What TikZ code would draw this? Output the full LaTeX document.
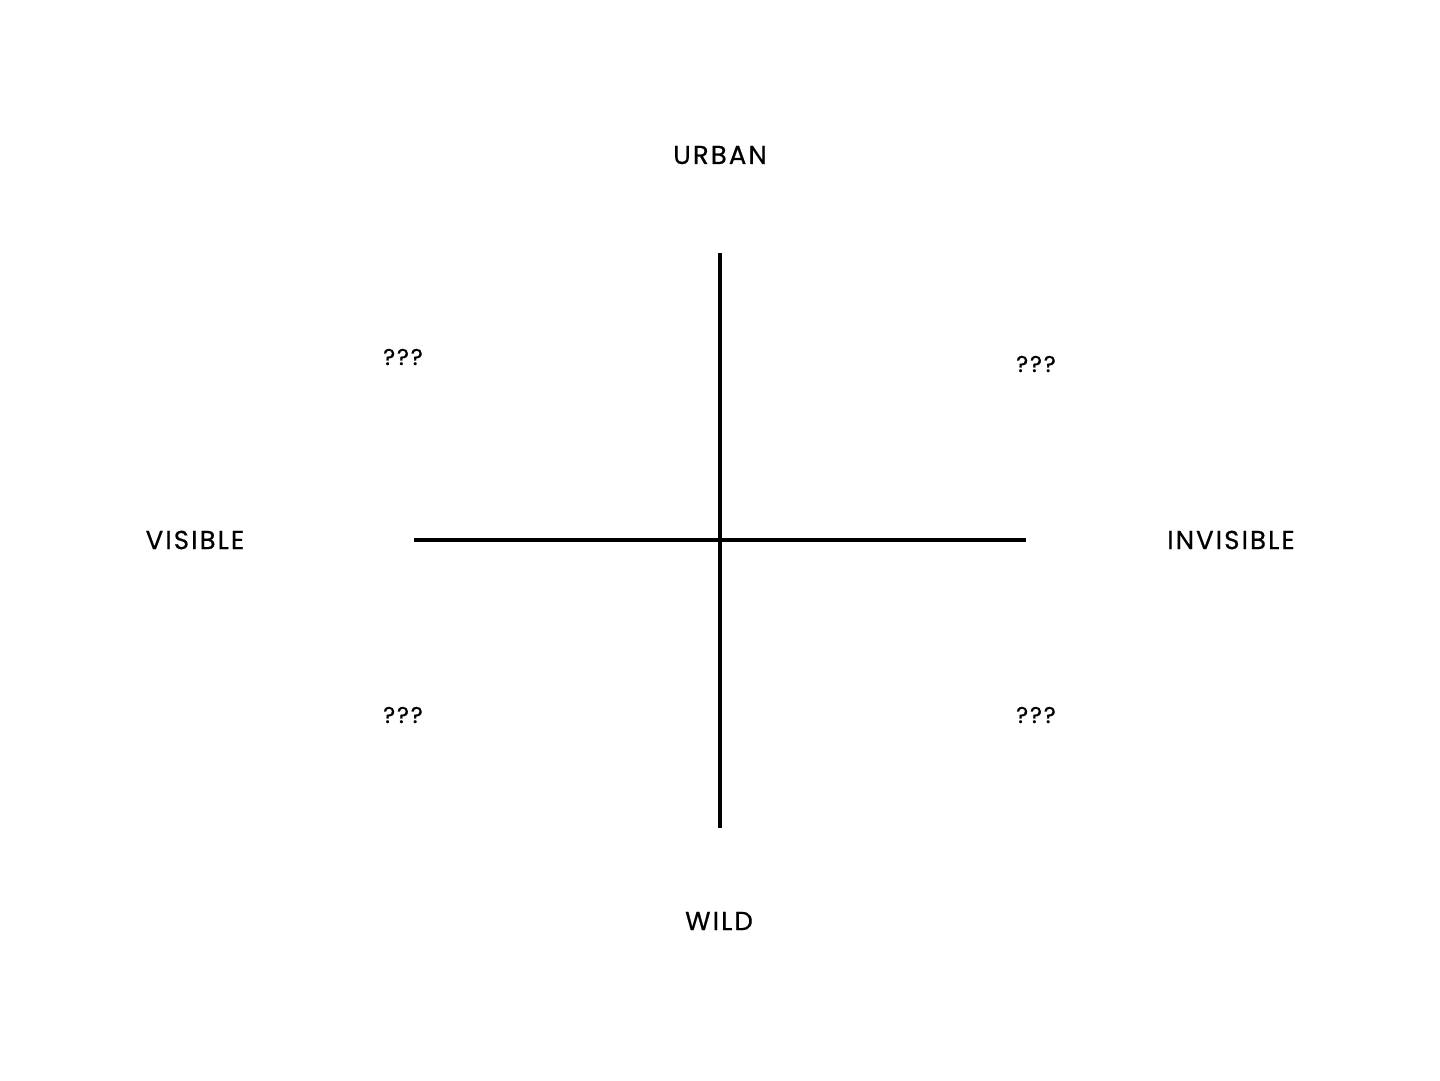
\documentclass[tikz,border=0pt]{standalone}
\usepackage{fontspec}
\setmainfont{Poppins}[LetterSpace=8,FakeBold=0.6]
\usetikzlibrary{positioning}

\begin{document}
\begin{tikzpicture}[
  x=0.02cm,y=-0.02cm,
  axislabel/.style={font=\fontsize{14.8}{16}\selectfont,inner sep=0pt},
  quad/.style={font=\fontsize{13}{15}\selectfont,inner sep=0pt},
  axis/.style={line width=1.8pt,black}]
\useasboundingbox (0,0) rectangle (1440,1080);
% axes
\coordinate (top) at (720,253);
\coordinate (bottom) at (720,828);
\coordinate (left) at (414,540);
\coordinate (right) at (1026,540);
\draw[axis] (top) -- (bottom);
\draw[axis] (left) -- (right);
% labels
\node[axislabel] (urban) at (720,155) {URBAN};
\node[axislabel] (wild) at (719,921) {WILD};
\node[axislabel] (visible) at (195,540) {VISIBLE};
\node[axislabel] (invisible) at (1231,540) {INVISIBLE};
\node[quad] (q1) at (403,357) {???};
\node[quad] (q2) at (1036,364) {???};
\node[quad] (q3) at (403,715) {???};
\node[quad] (q4) at (1036,715) {???};
\end{tikzpicture}
\end{document}
